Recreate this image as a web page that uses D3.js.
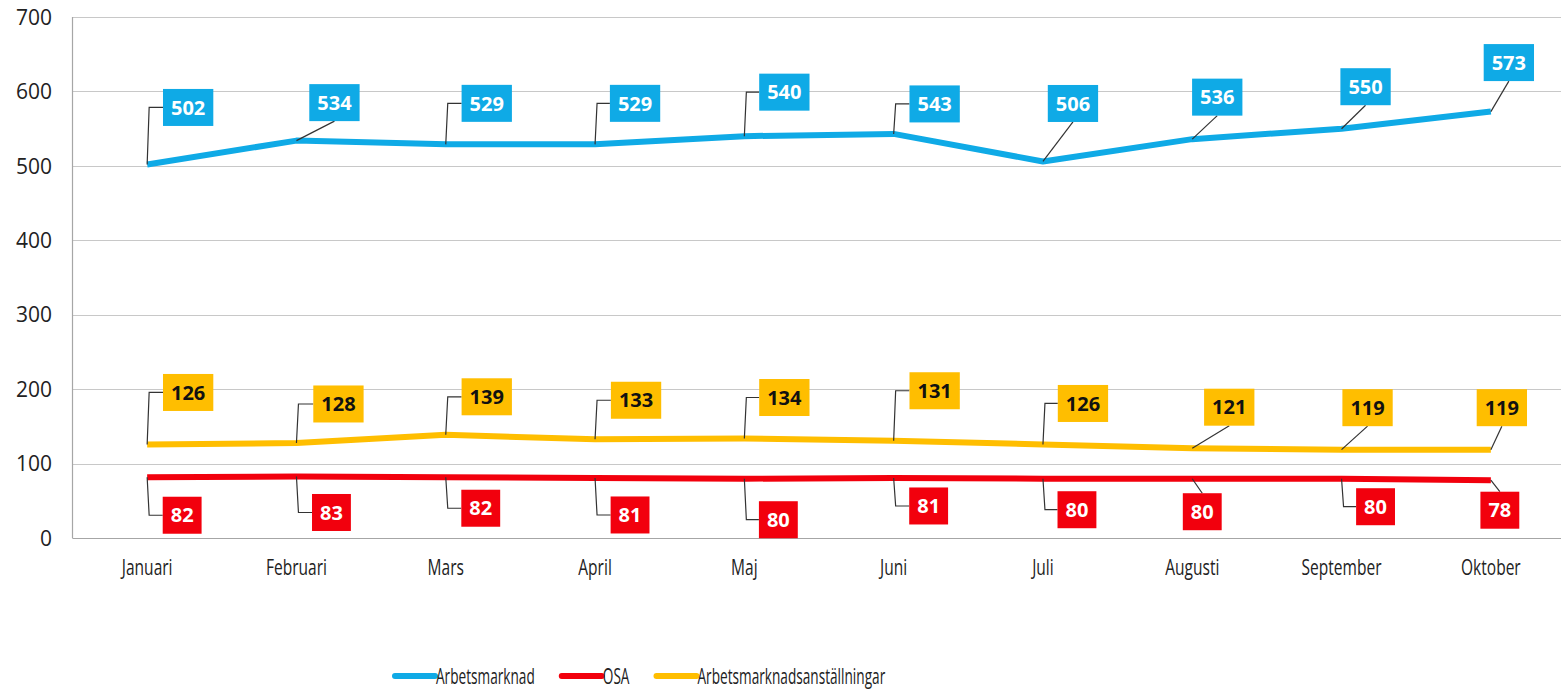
<!DOCTYPE html>
<html>
<head>
<meta charset="utf-8">
<script src="https://cdn.jsdelivr.net/npm/d3@7"></script>
<style>
  body { margin: 0; background: #fff; }
  svg { display: block; }
  .tick-y { font-family: "Open Sans", "Liberation Sans", sans-serif; font-size: 21px; fill: #222; }
  .tick-x { font-family: "Open Sans", "Liberation Sans", sans-serif; font-size: 21px; fill: #222; }
  .legend-text { font-family: "Open Sans", "Liberation Sans", sans-serif; font-size: 22px; fill: #222; }
  .lbl { font-family: "Open Sans", "Liberation Sans", sans-serif; font-size: 20px; font-weight: bold; }
</style>
</head>
<body>
<div id="chart"></div>
<script>
// data
const months = ["Januari", "Februari", "Mars", "April", "Maj", "Juni", "Juli", "Augusti", "September", "Oktober"];
const arbetsmarknad = [502, 534, 529, 529, 540, 543, 506, 536, 550, 573];
const osa = [82, 83, 82, 81, 80, 81, 80, 80, 80, 78];
const anstallningar = [126, 128, 139, 133, 134, 131, 126, 121, 119, 119];
const yTicks = [0, 100, 200, 300, 400, 500, 600, 700];

// where each data label box sits, relative to its point (dx, dy of box center)
const offsetsBlue = [[41,-57],[38,-38],[41,-41],[40,-41],[40,-44],[41,-30],[30,-58],[25,-42],[24,-42],[18,-49]];
const offsetsRed = [[35,38],[35,36],[35,31],[35,37],[34,41],[35,28],[34,31],[10,33],[34,28],[9,30]];
const offsetsYellow = [[41,-52],[42,-39],[41,-38],[41,-39],[40,-41],[41,-50],[40,-41],[37,-41],[26,-42],[11,-42]];

const series = [
  {name: "Arbetsmarknad", values: arbetsmarknad, color: "#0FAAE6", text: "#fff", offsets: offsetsBlue},
  {name: "OSA", values: osa, color: "#F2000D", text: "#fff", offsets: offsetsRed},
  {name: "Arbetsmarknadsanställningar", values: anstallningar, color: "#FFBE00", text: "#111", offsets: offsetsYellow}
];

const W = 1561, H = 692;
const plot = {left: 72.5, right: 1565.5, top: 17, bottom: 538.3};

const svg = d3.select("#chart").append("svg")
  .attr("width", W)
  .attr("height", H);

const x = d3.scalePoint()
  .domain(months)
  .range([plot.left, plot.right])
  .padding(0.5);

const y = d3.scaleLinear()
  .domain([0, 700])
  .range([plot.bottom, plot.top]);

// gridlines
svg.append("g")
  .selectAll("line")
  .data(yTicks)
  .enter()
  .append("line")
    .attr("x1", plot.left)
    .attr("x2", plot.right)
    .attr("y1", d => Math.round(y(d)) + 0.5)
    .attr("y2", d => Math.round(y(d)) + 0.5)
    .attr("stroke", d => d === 0 ? "#a6a6a6" : "#c8c8c8")
    .attr("stroke-width", 1.2);

// left axis line
svg.append("line")
  .attr("x1", plot.left).attr("x2", plot.left)
  .attr("y1", y(700)).attr("y2", y(0))
  .attr("stroke", "#a6a6a6")
  .attr("stroke-width", 1.2);

// y tick labels
svg.append("g")
  .selectAll("text")
  .data(yTicks)
  .enter()
  .append("text")
    .attr("class", "tick-y")
    .attr("x", 52)
    .attr("y", d => y(d))
    .attr("dy", "0.36em")
    .attr("text-anchor", "end")
    .text(d => d);

// x tick labels (the original font is condensed, so squeeze horizontally)
svg.append("g")
  .selectAll("text")
  .data(months)
  .enter()
  .append("text")
    .attr("class", "tick-x")
    .attr("transform", d => `translate(${x(d)},575) scale(0.74,1)`)
    .attr("text-anchor", "middle")
    .text(d => d);

// series lines
const line = d3.line()
  .x((d, i) => x(months[i]))
  .y(d => y(d));

series.forEach(s => {
  svg.append("path")
    .datum(s.values)
    .attr("fill", "none")
    .attr("stroke", s.color)
    .attr("stroke-width", 6)
    .attr("stroke-linejoin", "round")
    .attr("d", line);
});

// data labels with leader lines
const boxH = 37;
series.forEach(s => {
  const g = svg.append("g");
  s.values.forEach((v, i) => {
    const px = x(months[i]), py = y(v);
    const cx = px + s.offsets[i][0], cy = py + s.offsets[i][1];

    const t = g.append("text")
      .attr("class", "lbl")
      .attr("x", cx)
      .attr("y", cy)
      .attr("dy", "0.36em")
      .attr("text-anchor", "middle")
      .attr("fill", s.text)
      .text(v);
    const bw = t.node().getComputedTextLength() + 16;
    const left = cx - bw / 2;

    let path;
    if (left - px >= 13) {
      // elbow leader to the left side of the box
      path = `M${px},${py}L${px + 2},${cy}L${left},${cy}`;
    } else {
      const edge = cy < py ? cy + boxH / 2 : cy - boxH / 2;
      path = `M${px},${py}L${cx},${edge}`;
    }
    g.insert("path", "text")
      .attr("d", path)
      .attr("fill", "none")
      .attr("stroke", "#333")
      .attr("stroke-width", 1.2);

    g.insert("rect", "text")
      .attr("x", left)
      .attr("y", cy - boxH / 2)
      .attr("width", bw)
      .attr("height", boxH)
      .attr("fill", s.color);
  });
});

// legend
const sx = 0.62;
const legend = svg.append("g").attr("transform", "translate(395,676)");
let lx = 0;
series.forEach(s => {
  legend.append("line")
    .attr("x1", lx).attr("x2", lx + 40)
    .attr("y1", 0).attr("y2", 0)
    .attr("stroke", s.color)
    .attr("stroke-width", 6)
    .attr("stroke-linecap", "round");
  const t = legend.append("text")
    .attr("class", "legend-text")
    .attr("transform", `translate(${lx + 41},8) scale(${sx},1)`)
    .text(s.name);
  lx += 41 + t.node().getComputedTextLength() * sx + 27;
});
</script>
</body>
</html>
